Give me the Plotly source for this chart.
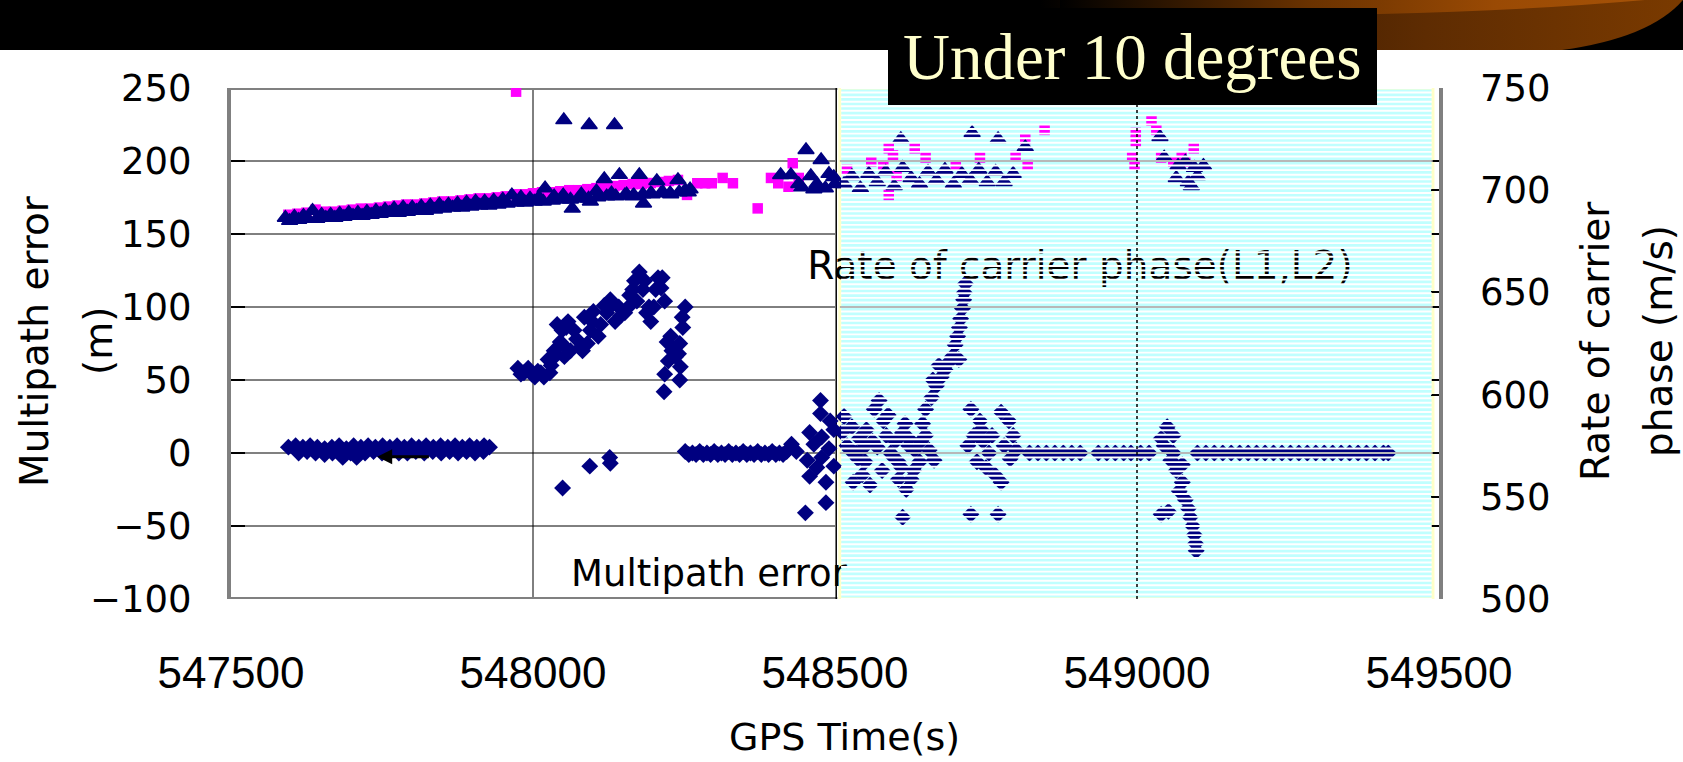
import base64
import plotly.graph_objects as go

# ---------------------------------------------------------------- layout metrics (px)
W, H = 1683, 762
L, R, T, B = 231, 244, 88, 163
PW = W - L - R
PH = H - T - B


def px_x(px):
    return (px - L) / PW


def px_y(py):
    return (H - B - py) / PH


# ---------------------------------------------------------------- data
# Multipath error (m), left axis
mp_time = [
    # quiet stretch before 548000
    547595, 547607, 547619, 547631, 547643, 547655, 547667, 547679, 547691, 547703,
    547715, 547727, 547739, 547751, 547763, 547775, 547787, 547799, 547811, 547823,
    547835, 547847, 547859, 547871, 547883, 547895, 547907, 547919, 547928,
    547612, 547626, 547640, 547655, 547668, 547685, 547698, 547708, 547722, 547736,
    547750, 547764, 547778, 547792, 547806, 547820, 547834, 547848, 547862, 547876,
    547890, 547904, 547918,
    # rising arc
    547975, 547985, 547998, 548008, 548018, 548028, 548025, 548035, 548045, 548052,
    548040, 548055, 548068, 548062, 548078, 548090, 548085, 548100, 548095, 548108,
    548118, 548128, 548136, 548142, 548152, 548160, 548168, 548176, 548182, 548188,
    548195, 548200, 548207, 548212, 548218, 548222, 548230, 548224, 548243, 548241,
    548244, 548218, 548243, 548217, 548248, 548252,
    547980, 547992, 548003, 548013, 548030, 548038, 548050, 548058, 548048, 548072,
    548082, 548098, 548112, 548122, 548132, 548145, 548158, 548165, 548172, 548185,
    548192, 548203, 548214, 548228, 548236, 548247,
    548049, 548094, 548127, 548128,
    # second quiet stretch
    548252, 548264, 548276, 548288, 548300, 548312, 548324, 548336, 548348, 548360,
    548372, 548384, 548396, 548408, 548420, 548428, 548436,
    548258, 548270, 548282, 548294, 548306, 548318, 548330, 548342, 548354, 548366,
    548378, 548390, 548402, 548414,
    548476, 548476, 548458, 548478, 548498, 548454, 548458, 548485, 548485, 548451,
    548478, 548498, 548465, 548490, 548470, 548492,
    548515, 548528, 548540, 548520, 548535, 548550, 548545, 548558, 548565, 548573,
    548580, 548585, 548570, 548592, 548600, 548597, 548612, 548622, 548610, 548626,
    548618, 548612, 548632, 548642, 548650, 548656, 548664, 548640,
    548512, 548525, 548538, 548552, 548562, 548578, 548588, 548605, 548616, 548630,
    548645, 548530, 548548, 548605, 548622,
    548650, 548660, 548668, 548676, 548682, 548688, 548694, 548699, 548703, 548706,
    548708, 548711, 548713, 548714, 548716, 548662, 548672, 548705,
    548725, 548740, 548730, 548720, 548745, 548760, 548775, 548788, 548795, 548780,
    548800, 548735, 548750, 548765, 548775, 548725, 548770, 548755, 548742, 548790,
    548822, 548836, 548850, 548864, 548878, 548892, 548906, 548936, 548950, 548964,
    548978, 548990, 549006, 549020,
    549040, 549050, 549045, 549060, 549056, 549065, 549075, 549070, 549080, 549085,
    549040, 549052, 549088, 549092, 549095, 549097, 549098, 549060, 549075,
    549100, 549114, 549128, 549142, 549156, 549170, 549184, 549198, 549212, 549226,
    549240, 549254, 549268, 549282, 549296, 549310, 549324, 549338, 549352, 549366,
    549380, 549394, 549408, 549416,
]
mp_error = [
    4, 5, 4, 5, 4, 3, 4, 5, 3, 5,
    4, 5, 4, 5, 4, 5, 4, 5, 4, 5,
    4, 5, 4, 5, 4, 5, 4, 5, 4,
    0, 1, 0, -1, 0, -3, 0, -3, 0, 1,
    0, 1, 0, 0, 1, 0, 1, 0, 1, 0,
    1, 0, 1,
    58, 55, 54, 56, 52, 55, 64, 70, 76, 66,
    88, 86, 84, 70, 72, 75, 93, 97, 84, 80,
    101, 105, 90, 100, 96, 108, 118, 124, 112, 96,
    90, 100, 120, 113, 104, 76, 70, 63, 75, 68,
    59, 54, 50, 42, 86, 100,
    54, 58, 52, 55, 60, 67, 74, 90, 84, 78,
    70, 90, 88, 96, 102, 94, 100, 112, 104, 118,
    100, 112, 120, 80, 66, 93,
    -24, -9, -3, -7,
    1, 0, 1, 0, 1, 0, 1, 0, 1, 0,
    1, 0, 1, 0, 1, 6, 1,
    -1, -1, -1, -1, -1, -1, -1, -1, -1, -1,
    -1, -1, -1, -1,
    36, 27, 14, 11, 16, -5, -16, -20, -34, -41,
    -3, -9, 6, 3, -10, 22,
    25, 18, 10, 5, 0, -6, -15, -22, 30, 36,
    22, 12, 4, 0, 8, -3, 14, 5, -10, -18,
    -25, -44, 2, 8, 12, 2, -5, -6,
    14, 2, -4, 16, 8, -12, 26, -6, 20, -12,
    20, -20, 4, -18, 10,
    30, 38, 46, 52, 57, 62, 66, 74, 80, 86,
    92, 99, 105, 110, 116, 50, 60, 64,
    30, 22, 12, 5, 8, 12, 28, 22, 12, 5,
    2, -6, -10, -15, -20, -42, -42, 0, 16, -4,
    0, 0, 0, 0, 0, 0, 0, 0, 0, 0,
    0, 0, 0, 0,
    10, 18, 5, 12, -5, -12, -20, -26, -32, -38,
    -42, -40, -44, -50, -56, -62, -67, 0, -8,
    0, 0, 0, 0, 0, 0, 0, 0, 0, 0,
    0, 0, 0, 0, 0, 0, 0, 0, 0, 0,
    0, 0, 0, 0,
]

# Rate of carrier phase L1 (m/s), right axis
l1_time = [
    547590, 547605, 547620, 547635, 547650, 547665, 547680, 547695, 547710, 547725,
    547740, 547755, 547770, 547785, 547800, 547815, 547830, 547845, 547860, 547875,
    547890, 547905, 547920, 547935, 547950, 547965, 547980, 547995, 548010, 548020,
    548035, 548050, 548065, 548080, 548095, 548105, 548118, 548130, 548143, 548155,
    548165, 548176, 548183, 548195, 548205, 548215, 548228, 548240, 548252, 548260,
    547597, 547612, 547627, 547642, 547657, 547672, 547687, 547702, 547717, 547732,
    547747, 547762, 547777, 547792, 547807, 547822, 547837, 547852, 547867, 547882,
    547897, 547912, 547927, 547942, 547957, 547972, 547987, 548002, 548017, 548032,
    548047, 548062, 548077, 548092, 548107, 548122, 548137, 548152, 548167, 548182,
    548197, 548212, 548227, 548242, 548257,
    548051, 548093, 548135,
    548410, 548427, 548440, 548452, 548460, 548470, 548477, 548490, 548500, 548445,
    548465, 548484, 548498,
    548515, 548528, 548542, 548556, 548570, 548584, 548598, 548609, 548612, 548626,
    548640, 548654, 548668, 548682, 548696, 548710, 548727, 548724, 548738, 548752,
    548766, 548770, 548780, 548795, 548815,
    549038, 549045, 549068, 549080, 549095, 549110, 549065, 549085, 549100, 549090,
]
l1_rate = [
    686.5, 687.0, 687.5, 690.0, 688.0, 688.0, 688.5, 689.0, 689.0, 689.5,
    690.0, 690.5, 691.0, 691.5, 691.5, 692.0, 692.5, 693.0, 693.0, 693.5,
    694.0, 694.5, 694.5, 695.0, 695.5, 697.5, 696.5, 696.0, 696.5, 701.0,
    697.0, 697.5, 691.0, 698.0, 694.5, 699.5, 705.5, 698.5, 707.5, 698.0,
    697.0, 707.5, 693.5, 698.5, 704.5, 699.0, 698.0, 705.0, 700.0, 700.5,
    685.0, 685.5, 686.0, 686.0, 686.5, 686.5, 687.0, 687.5, 687.5, 688.0,
    688.5, 689.0, 689.0, 689.5, 690.0, 690.0, 690.5, 691.0, 691.5, 691.5,
    692.0, 692.5, 692.5, 693.0, 693.5, 694.0, 694.0, 694.5, 694.5, 695.0,
    695.5, 695.5, 696.0, 696.0, 696.5, 697.0, 697.0, 697.5, 697.5, 698.0,
    698.0, 698.5, 698.5, 699.0, 699.0,
    734.3, 731.9, 731.9,
    707.4, 707.4, 703.0, 719.7, 707.0, 703.0, 714.8, 708.0, 703.0, 701.5,
    700.5, 701.0, 706.5,
    703, 707, 701, 708, 704, 709, 702, 725, 711, 706,
    703, 709, 705, 710, 703, 708, 728, 705, 710, 704,
    709, 725, 704, 708, 721,
    726, 716, 712, 714, 711, 712, 706, 704, 707, 702,
]

# Rate of carrier phase L2 (m/s), right axis
l2_time = [
    547595, 547610, 547625, 547640, 547655, 547670, 547685, 547700, 547715, 547730,
    547745, 547760, 547775, 547790, 547805, 547820, 547835, 547850, 547865, 547880,
    547895, 547910, 547925, 547940, 547955, 547970, 547985, 548000, 548015, 548030,
    548045, 548060, 548075, 548090, 548105, 548120, 548135, 548150, 548165, 548180,
    548195, 548210, 548225, 548240,
    547972, 548255, 548272, 548285, 548296, 548314, 548331, 548372, 548394, 548406,
    548423, 548430, 548440,
    548520, 548560, 548580, 548589, 548596, 548602, 548589, 548632, 548650, 548700,
    548740, 548799, 548815, 548819, 548847,
    548992, 548998, 548998, 549024, 549032, 549074, 549094, 548996, 549040, 549060,
    549080,
]
l2_rate = [
    688.0, 688.5, 689.0, 690.5, 689.5, 689.5, 690.0, 690.5, 691.0, 691.0,
    691.5, 692.0, 692.5, 693.0, 693.0, 693.5, 694.0, 694.5, 694.5, 695.0,
    695.5, 696.0, 696.0, 696.5, 697.0, 698.0, 698.0, 698.5, 699.0, 699.0,
    699.5, 700.0, 700.0, 700.5, 701.0, 701.5, 702.0, 702.5, 703.0, 703.0,
    703.5, 704.0, 704.5, 705.0,
    748.2, 697.7, 703.4, 703.4, 703.4, 706.0, 703.4, 691.1, 706.0, 703.4,
    701.7, 713.2, 706.0,
    710, 714, 712, 720.5, 717, 707, 697.7, 720.5, 716, 712,
    716, 716.7, 725, 712.3, 729.5,
    716.4, 723.8, 728, 734, 729.5, 716.4, 720.5, 712, 716, 714,
    714,
]

x_ticks = [547500, 548000, 548500, 549000, 549500]
y_ticks = [-100, -50, 0, 50, 100, 150, 200, 250]
y2_ticks = [500, 550, 600, 650, 700, 750]

X_RANGE = [547500, 549500]
Y_RANGE = [-100, 250]
Y2_RANGE = [500, 750]

# panel geometry (time axis) for the white and the striped cyan halves
WHITE_X = (547500, 548500)
CYAN_X = (548508, 549490)

NAVY = "#000080"
MAGENTA = "#ff00ff"
SANS = "DejaVu Sans"

# ---------------------------------------------------------------- figure
fig = go.Figure()

fig.add_trace(go.Scatter(
    x=mp_time, y=mp_error, mode="markers", yaxis="y",
    marker=dict(symbol="diamond", size=13, color=NAVY, line=dict(width=0)),
))
fig.add_trace(go.Scatter(
    x=l2_time, y=l2_rate, mode="markers", yaxis="y2",
    marker=dict(symbol="square", size=10.5, color=MAGENTA, line=dict(width=0)),
))
fig.add_trace(go.Scatter(
    x=l1_time, y=l1_rate, mode="markers", yaxis="y2",
    marker=dict(symbol="triangle-up", size=14, color=NAVY,
                line=dict(width=1.5, color=NAVY)),
))

# in-plot series labels (drawn as traces so the striped panel runs across them)
fig.add_trace(go.Scatter(
    x=[548454], y=[126], mode="text", yaxis="y",
    text=["Rate of carrier phase(L1,L2)"], textposition="middle right",
    textfont=dict(family=SANS, size=39, color="black"),
))
fig.add_trace(go.Scatter(
    x=[548063], y=[-84.5], mode="text", yaxis="y",
    text=["Multipath error"], textposition="middle right",
    textfont=dict(family=SANS, size=37, color="black"),
))

shapes = []

# cyan panel background
shapes.append(dict(type="rect", xref="x", yref="y", layer="below",
                   x0=CYAN_X[0], x1=CYAN_X[1], y0=Y_RANGE[0], y1=Y_RANGE[1],
                   fillcolor="#c0ffff", line=dict(color="#ffffc8", width=3)))

# white half: grid
for v in [200, 150, 100, 50, -50]:
    shapes.append(dict(type="line", xref="x", yref="y", layer="below",
                       x0=WHITE_X[0], x1=WHITE_X[1], y0=v, y1=v,
                       line=dict(color="black", width=1)))
shapes.append(dict(type="line", xref="x", yref="y", layer="below",
                   x0=WHITE_X[0], x1=WHITE_X[1], y0=0, y1=0,
                   line=dict(color="#808080", width=2)))
shapes.append(dict(type="line", xref="x", yref="y", layer="below",
                   x0=548000, x1=548000, y0=Y_RANGE[0], y1=Y_RANGE[1],
                   line=dict(color="black", width=1)))
# white half: frame
for v in Y_RANGE:
    shapes.append(dict(type="line", xref="x", yref="y", layer="below",
                       x0=WHITE_X[0], x1=WHITE_X[1] + 4, y0=v, y1=v,
                       line=dict(color="#808080", width=4)))
shapes.append(dict(type="line", xref="x", yref="y", layer="below",
                   x0=WHITE_X[1] + 2, x1=WHITE_X[1] + 2, y0=Y_RANGE[0], y1=Y_RANGE[1],
                   line=dict(color="black", width=1.5)))

# horizontal white stripes over the cyan panel
N_STRIPES = 112
for k in range(N_STRIPES + 1):
    yp = k / N_STRIPES
    shapes.append(dict(type="line", xref="x", yref="paper", layer="above",
                       x0=CYAN_X[0] + 2, x1=CYAN_X[1] - 2, y0=yp, y1=yp,
                       line=dict(color="white", width=1.9)))

# cyan panel grid
for v in [200, 100, 0]:
    shapes.append(dict(type="line", xref="x", yref="y", layer="above",
                       x0=CYAN_X[0], x1=CYAN_X[1], y0=v, y1=v,
                       line=dict(color="#a0a0a0", width=1.5)))
shapes.append(dict(type="line", xref="x", yref="y", layer="above",
                   x0=549000, x1=549000, y0=Y_RANGE[0], y1=Y_RANGE[1],
                   line=dict(color="black", width=1.5, dash="dot")))

# title box in the header
shapes.append(dict(type="rect", xref="paper", yref="paper", layer="above",
                   x0=px_x(888), x1=px_x(1377), y0=px_y(105), y1=px_y(8),
                   fillcolor="black", line=dict(width=0)))

# header band with the brown swoosh
header_svg = f"""<svg xmlns='http://www.w3.org/2000/svg' width='{W}' height='{H}' viewBox='0 0 {W} {H}'>
<defs>
<linearGradient id='dark' gradientUnits='userSpaceOnUse' x1='1040' y1='0' x2='1683' y2='0'>
<stop offset='0' stop-color='#000000'/>
<stop offset='0.3' stop-color='#3e1c00'/>
<stop offset='0.6' stop-color='#5e2c02'/>
<stop offset='1' stop-color='#7a3a00'/>
</linearGradient>
<linearGradient id='light' gradientUnits='userSpaceOnUse' x1='1060' y1='0' x2='1683' y2='0'>
<stop offset='0' stop-color='#000000'/>
<stop offset='0.4' stop-color='#6a3200'/>
<stop offset='0.7' stop-color='#9a4a04'/>
<stop offset='1' stop-color='#a85408'/>
</linearGradient>
</defs>
<rect x='0' y='0' width='{W}' height='50' fill='#000000'/>
<path d='M1040,0 L1683,0 Q1650,38 1562,50 L1040,50 Z' fill='url(#dark)'/>
<path d='M1060,0 L1645,0 Q1520,11 1380,14 Q1220,18 1060,21 Z' fill='url(#light)'/>
</svg>"""
header_src = "data:image/svg+xml;base64," + base64.b64encode(header_svg.encode()).decode()


def title(text, px, py, angle=0, size=39):
    return dict(xref="paper", yref="paper", x=px_x(px), y=px_y(py),
                xanchor="center", yanchor="middle", showarrow=False,
                textangle=angle, text=text,
                font=dict(family=SANS, size=size, color="black"))


annotations = [
    dict(xref="paper", yref="paper", x=px_x(1132), y=px_y(57), xanchor="center",
         yanchor="middle", showarrow=False, text="Under 10 degrees",
         font=dict(family="Liberation Serif", size=65, color="#ffffcc")),
    # arrow pointing at the left axis
    dict(xref="x", yref="y", x=547742, y=-2.5, ax=547830, ay=-2.5, axref="x", ayref="y",
         showarrow=True, arrowhead=2, arrowsize=1, arrowwidth=3, arrowcolor="black", text=""),
    # axis titles
    title("GPS Time(s)", 844, 737, size=38),
    title("Multipath error", 34, 341, -90),
    title("(m)", 98, 341, -90),
    title("Rate of carrier", 1595, 341, -90),
    title("phase (m/s)", 1658, 341, -90),
]

fig.update_layout(
    width=W, height=H,
    margin=dict(l=L, r=R, t=T, b=B, pad=0),
    paper_bgcolor="white", plot_bgcolor="white",
    showlegend=False, hovermode=False,
    shapes=shapes, annotations=annotations,
    images=[dict(source=header_src, xref="paper", yref="paper",
                 x=px_x(0), y=px_y(0), sizex=W / PW, sizey=H / PH,
                 xanchor="left", yanchor="top", sizing="stretch", layer="below")],
    xaxis=dict(range=X_RANGE, tickvals=x_ticks, ticktext=[str(v) for v in x_ticks],
               showgrid=False, zeroline=False, showline=False, ticks="",
               tickfont=dict(family="Liberation Sans", size=44, color="black"),
               ticklabelstandoff=44),
    yaxis=dict(range=Y_RANGE, tickvals=y_ticks, showgrid=False, zeroline=False,
               showline=True, linecolor="#808080", linewidth=4, mirror="ticks",
               ticks="inside", ticklen=14, tickwidth=2, tickcolor="black",
               tickfont=dict(family=SANS, size=37, color="black"),
               ticklabelstandoff=28),
    yaxis2=dict(range=Y2_RANGE, tickvals=y2_ticks, overlaying="y", side="right",
                showgrid=False, zeroline=False, showline=False,
                ticks="inside", ticklen=8, tickwidth=1.5, tickcolor="black",
                tickfont=dict(family=SANS, size=37, color="black"),
                ticklabelstandoff=40),
)

fig.write_html("out.html")
